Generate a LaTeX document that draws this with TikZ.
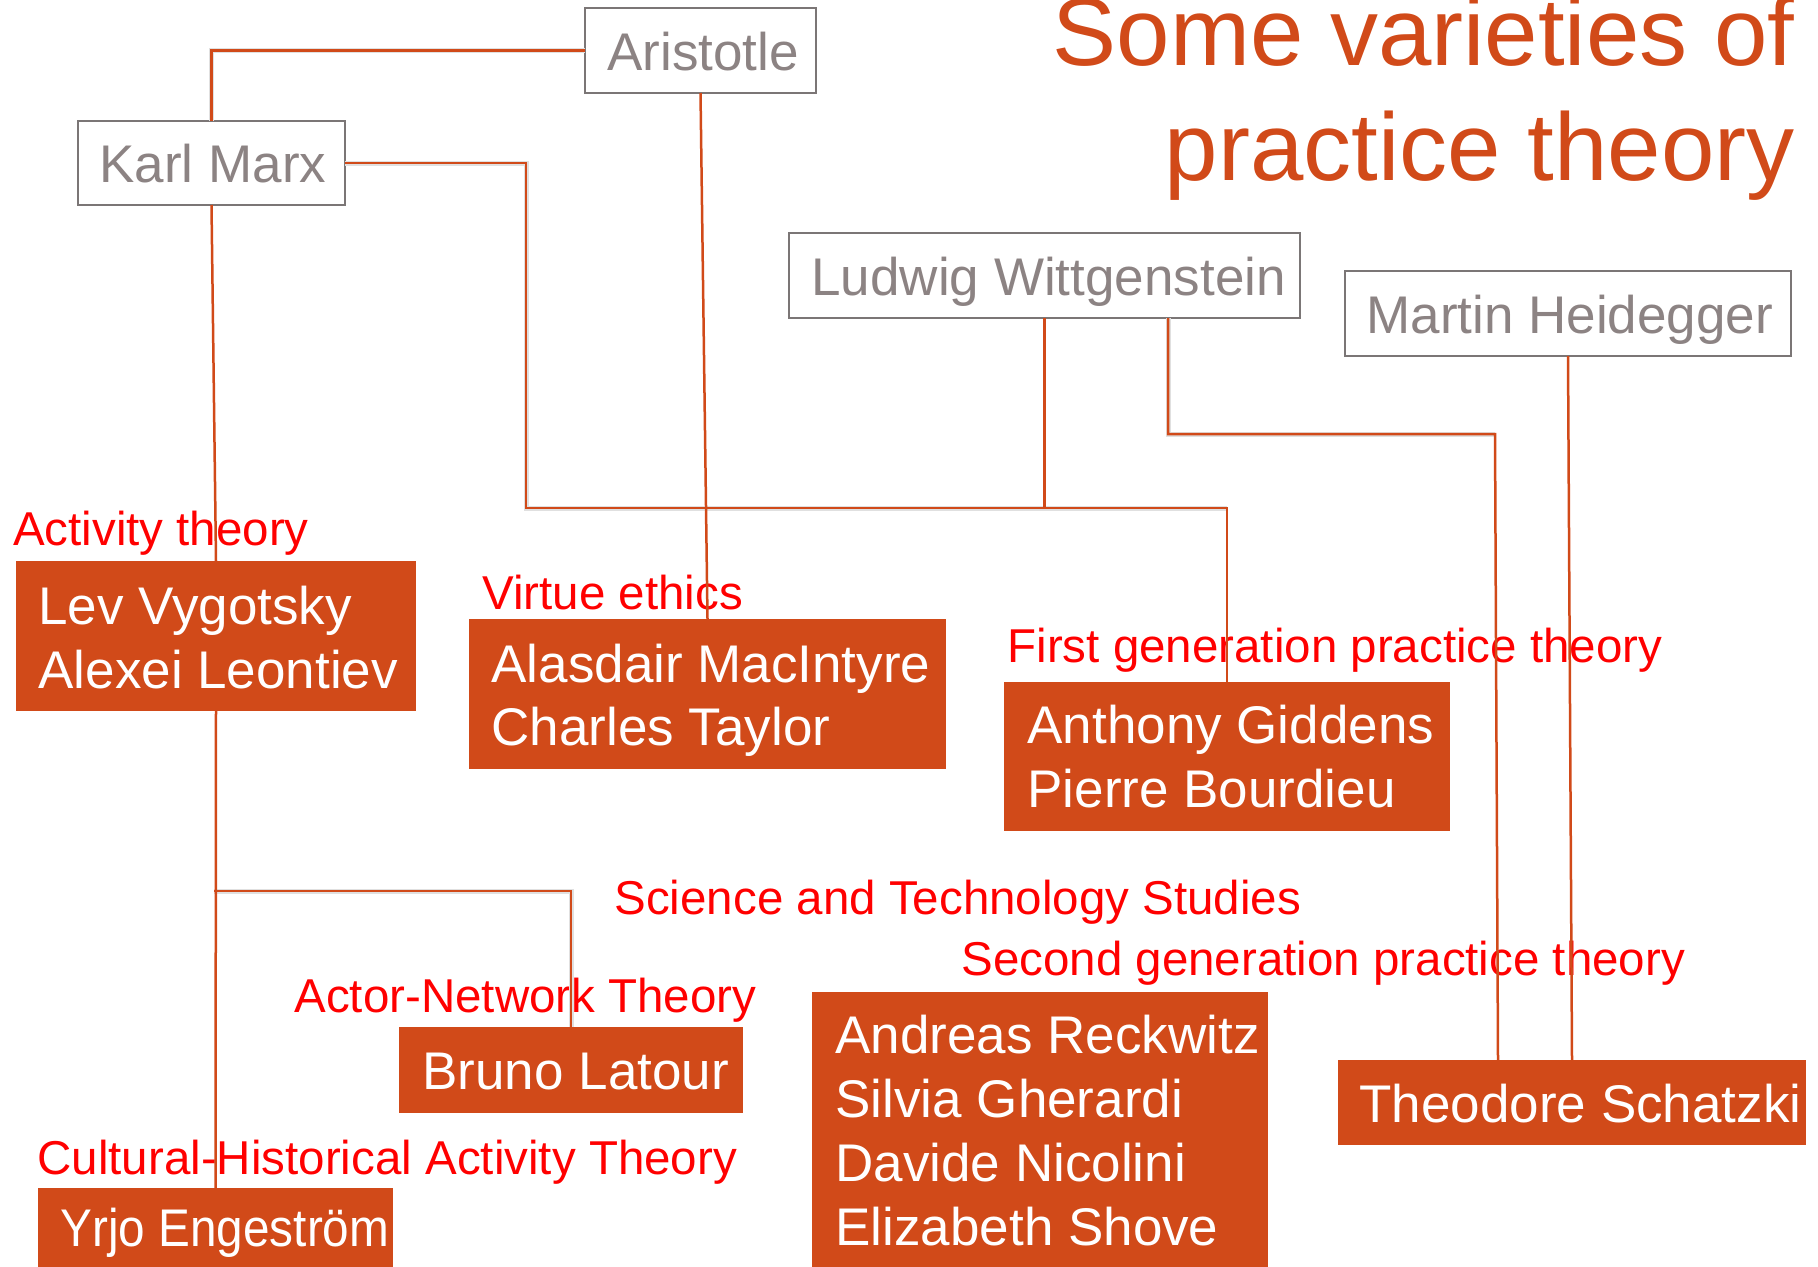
\documentclass[tikz,border=0pt]{standalone}
\usepackage{fontspec}
\setmainfont{Liberation Sans}
\definecolor{orng}{HTML}{D14A19}
\definecolor{grayt}{HTML}{8C8383}
\definecolor{grayb}{HTML}{7B7676}
\definecolor{lblred}{HTML}{FF0000}
\begin{document}
\begin{tikzpicture}[x=0.4pt,y=-0.4pt,
  fillbox/.style={rectangle,fill=orng,draw=none,inner sep=0pt,outer sep=0pt,anchor=north west},
  outbox/.style={rectangle,fill=white,draw=grayb,line width=0.8pt,inner sep=0pt,outer sep=0pt,anchor=north west},
  bw/.style={minimum width={#1*0.4pt}},
  bh/.style={minimum height={#1*0.4pt}},
  wtext/.style={inner sep=0pt,anchor=base west,text=white,font=\fontsize{21.2pt}{25.6pt}\selectfont},
  gtext/.style={inner sep=0pt,anchor=base west,text=grayt,font=\fontsize{21.2pt}{25.6pt}\selectfont},
  lbl/.style={inner sep=0pt,anchor=base west,text=lblred,font=\fontsize{19pt}{23pt}\selectfont},
  ttl/.style={inner sep=0pt,anchor=base east,text=orng,font=\fontsize{38.4pt}{46pt}\selectfont},
  conn/.style={draw=orng,line width=1pt},
  shad/.style={draw=black!12,line width=2pt}]
\useasboundingbox (0,0) rectangle (1818,1266);

% title
\node[ttl] (title1) at (1795,65) {Some varieties of};
\node[ttl] (title2) at (1795,180) {practice theory};

% red labels
\node[lbl] (l1) at (12.6,545) {Activity theory};
\node[lbl] (l2) at (482,609) {Virtue ethics};
\node[lbl] (l3) at (1007,662) {First generation practice theory};
\node[lbl] (l4) at (614,914) {Science and Technology Studies};
\node[lbl] (l5) at (961,975) {Second generation practice theory};
\node[lbl] (l6) at (294,1012) {Actor-Network Theory};
\node[lbl] (l7) at (37,1174) {Cultural-Historical Activity Theory};

% outlined boxes
\node[outbox,bw=231,bh=85] (arist) at (585,8) {};
\node[outbox,bw=267,bh=84] (marx) at (78,121) {};
\node[outbox,bw=511,bh=85] (witt) at (789,233) {};
\node[outbox,bw=446,bh=85] (heid) at (1345,271) {};
\node[gtext] (aristt) at (607,70) {Aristotle};
\node[gtext] (marxt) at (99,182.5) {Karl Marx};
\node[gtext] (wittt) at (811,295) {Ludwig Wittgenstein};
\node[gtext] (heidt) at (1366,333) {Martin Heidegger};

% connector points
\coordinate (j1) at (526,508);
\coordinate (w2) at (1168,318);
\coordinate (k1) at (1495,434);
\coordinate (s2) at (1498,1060);
\coordinate (b1) at (214,891);

% filled boxes
\node[fillbox,bw=400,bh=150] (lev) at (16,561) {};
\node[fillbox,bw=477,bh=150] (mac) at (469,619) {};
\node[fillbox,bw=446,bh=149] (gid) at (1004,682) {};
\node[fillbox,bw=344,bh=86] (lat) at (399,1027) {};
\node[fillbox,bw=355,bh=100] (yrjo) at (38,1188) {};
\node[fillbox,bw=456,bh=300] (reck) at (812,992) {};
\node[fillbox,bw=468,bh=85] (sch) at (1338,1060) {};

% shadows of connectors
\begin{scope}[shift={(1.5,4)}]
\draw[shad] (arist.west) -| (marx.north);
\draw[shad] (marx.east) -| (j1) -- (j1 -| gid.north);
\draw[shad] (w2) |- (k1);
\draw[shad] (b1) -| (lat.north);
\end{scope}

% connectors
\draw[conn] (arist.west) -| (marx.north);
\draw[conn] (marx.east) -| (j1) -- (j1 -| gid.north) -- (gid.north);
\draw[conn] (witt.south) -- (witt.south |- j1);
\draw[conn] (arist.south) -- (mac.north);
\draw[conn] (w2) |- (k1) -- (s2);
\draw[conn] (heid.south) -- (sch.north);
\draw[conn] (marx.south) -- (lev.north);
\draw[conn] (lev.south) -- (yrjo.north);
\draw[conn] (b1) -| (lat.north);

% box texts
\node[wtext] (lev1) at (38,624) {Lev Vygotsky};
\node[wtext] (lev2) at (38,688) {Alexei Leontiev};
\node[wtext] (mac1) at (491,682) {Alasdair MacIntyre};
\node[wtext] (mac2) at (491,745) {Charles Taylor};
\node[wtext] (gid1) at (1027,743) {Anthony Giddens};
\node[wtext] (gid2) at (1027,807) {Pierre Bourdieu};
\node[wtext] (lat1) at (422,1089) {Bruno Latour};
\node[wtext] (yrjo1) at (60,1246) {\scalebox{0.9}[1]{Yrjo Engeström}};
\node[wtext] (reck1) at (835,1053) {Andreas Reckwitz};
\node[wtext] (reck2) at (835,1117) {Silvia Gherardi};
\node[wtext] (reck3) at (835,1181) {Davide Nicolini};
\node[wtext] (reck4) at (835,1245) {Elizabeth Shove};
\node[wtext] (sch1) at (1359,1122) {Theodore Schatzki};
\end{tikzpicture}
\end{document}
